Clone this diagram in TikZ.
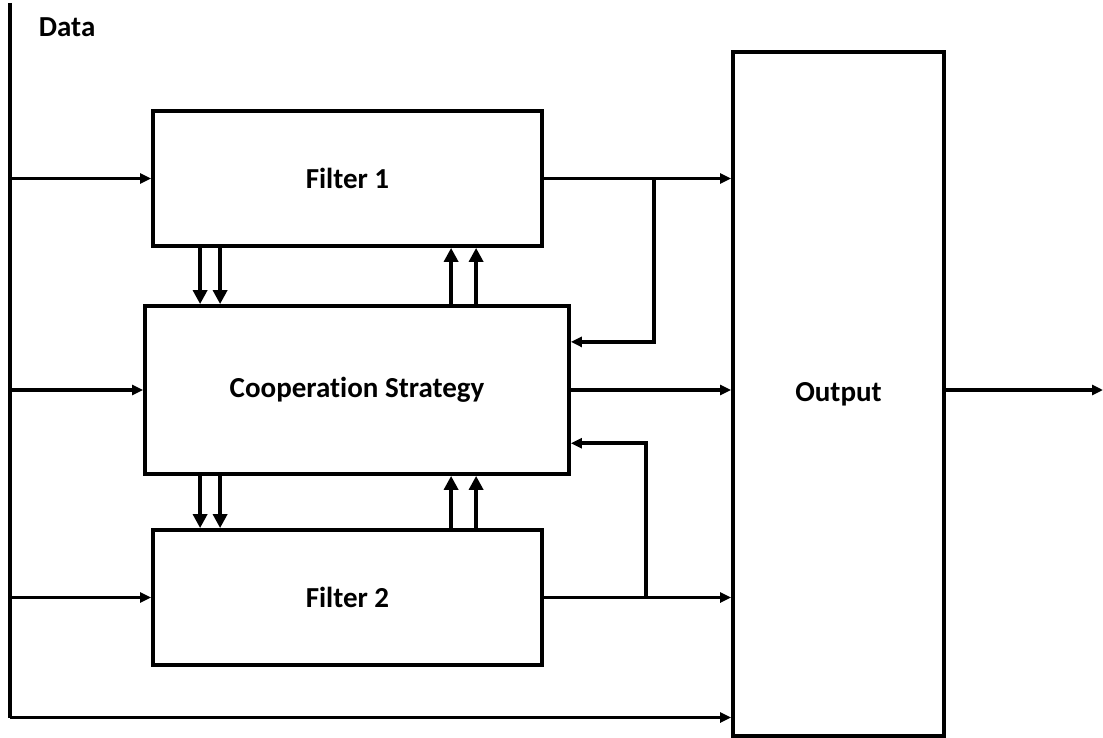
\documentclass[tikz,border=0pt]{standalone}
\usepackage{fontspec}
\setmainfont{Carlito}[Ligatures={NoCommon}]
\usetikzlibrary{arrows.meta,calc}
\begin{document}
\begin{tikzpicture}[x=1pt,y=-1pt,
  line width=3.8pt,
  box/.style={draw,line width=3.8pt,inner sep=0pt,font=\fontsize{29}{34}\selectfont\bfseries},
  arr/.style={-{Triangle[length=11pt,width=10pt]}},
  varr/.style={-{Triangle[length=14pt,width=14pt]}}]
\useasboundingbox (0,0) rectangle (1103,738);
\node[box,minimum width=389pt,minimum height=135pt] (f1) at (347.5,178.5) {Filter 1};
\node[box,minimum width=424pt,minimum height=168pt] (coop) at (357,390) {Cooperation Strategy};
\node[box,minimum width=389pt,minimum height=135pt] (f2) at (347.5,597.5) {Filter 2};
\node[box,minimum width=211pt,minimum height=684pt] (out) at (838.5,394) {Output};
\node[anchor=base west,font=\fontsize{29}{34}\selectfont\bfseries,inner sep=0pt] (data) at (37,37) {Data};
\coordinate (dtop) at (10,3);
\coordinate (dbot) at (10,717.5);
\coordinate (oend) at (1103,390);
% data line
\draw (dtop) -- (dbot);
\draw[arr] (dbot) -- (dbot -| out.west);
% inputs
\draw[arr] (dtop |- f1.west) -- (f1.west);
\draw[arr] (dtop |- coop.west) -- (coop.west);
\draw[arr] (dtop |- f2.west) -- (f2.west);
% outputs
\draw[arr] (f1.east) -- (f1.east -| out.west);
\draw[arr] (coop.east) -- (coop.east -| out.west);
\draw[arr] (f2.east) -- (f2.east -| out.west);
\draw[arr] (out.east |- oend) -- (oend);
% feedback
\coordinate (b1) at ($(f1.east)+(110,0)$);
\coordinate (b2) at ($(f2.east)+(102,0)$);
\coordinate (fb1) at ($(coop.north east)!0.22!(coop.south east)$);
\coordinate (fb2) at ($(coop.north east)!0.81!(coop.south east)$);
\draw[arr] (b1) |- (fb1);
\draw[arr] (b2) |- (fb2);
% vertical links filter1 <-> coop
\coordinate (d1) at ($(f1.south west)+(49,0)$);
\coordinate (d2) at ($(f1.south west)+(69,0)$);
\coordinate (u1) at ($(f1.south west)+(300,0)$);
\coordinate (u2) at ($(f1.south west)+(325,0)$);
\draw[varr] (d1) -- (d1 |- coop.north);
\draw[varr] (d2) -- (d2 |- coop.north);
\draw[varr] (u1 |- coop.north) -- (u1);
\draw[varr] (u2 |- coop.north) -- (u2);
% vertical links coop <-> filter2
\coordinate (e1) at ($(coop.south west)+(57,0)$);
\coordinate (e2) at ($(coop.south west)+(77,0)$);
\coordinate (v1) at ($(coop.south west)+(308,0)$);
\coordinate (v2) at ($(coop.south west)+(333,0)$);
\draw[varr] (e1) -- (e1 |- f2.north);
\draw[varr] (e2) -- (e2 |- f2.north);
\draw[varr] (v1 |- f2.north) -- (v1);
\draw[varr] (v2 |- f2.north) -- (v2);
\end{tikzpicture}
\end{document}
